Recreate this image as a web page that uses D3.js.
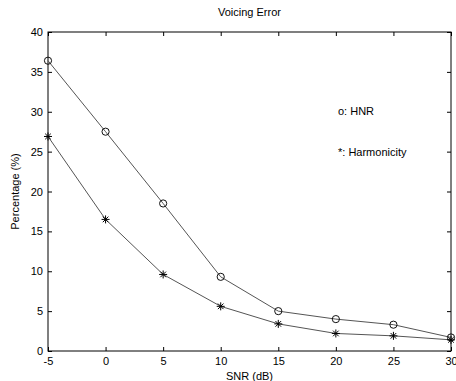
<!DOCTYPE html>
<html>
  <head>
    <meta charset="utf-8">
    <title>Voicing Error</title>
    <script src="https://d3js.org/d3.v7.min.js"></script>
    <style>
      body { margin: 0; background: #fff; }
      svg { display: block; font-family: "Liberation Sans", Arial, sans-serif; }
      .axis text { font-size: 11px; fill: #000; }
      .axis path, .axis line { stroke: #000; }
    </style>
  </head>
  <body>
    <div id="chart"></div>
    <script>
      // data
      var snr = [-5, 0, 5, 10, 15, 20, 25, 30];
      var hnr = [36.4, 27.5, 18.5, 9.3, 5.0, 4.0, 3.3, 1.7];
      var harmonicity = [26.9, 16.5, 9.6, 5.6, 3.4, 2.2, 1.9, 1.4];
      var xTicks = [-5, 0, 5, 10, 15, 20, 25, 30];
      var yTicks = [0, 5, 10, 15, 20, 25, 30, 35, 40];

      var width = 456, height = 381;
      var margin = { top: 32, right: 5, bottom: 30, left: 48 };
      var plain = function(d) { return String(d); }; // hyphen minus, like the original

      var svg = d3.select("#chart")
        .append("svg")
          .attr("width", width)
          .attr("height", height);

      var x = d3.scaleLinear()
        .domain([-5, 30])
        .range([margin.left, width - margin.right]);
      var y = d3.scaleLinear()
        .domain([0, 40])
        .range([height - margin.bottom, margin.top]);

      // axes, ticks pointing inwards on all four sides
      svg.append("g")
        .attr("class", "axis")
        .attr("transform", "translate(0," + y(0) + ")")
        .call(d3.axisBottom(x).tickValues(xTicks).tickFormat(plain).tickSizeInner(-4).tickSizeOuter(0).tickPadding(6))
        .call(function(g) { g.select(".domain").remove(); });
      svg.append("g")
        .attr("class", "axis")
        .attr("transform", "translate(" + x(-5) + ",0)")
        .call(d3.axisLeft(y).tickValues(yTicks).tickFormat(plain).tickSizeInner(-4).tickSizeOuter(0).tickPadding(5))
        .call(function(g) { g.select(".domain").remove(); });
      svg.append("g")
        .attr("class", "axis")
        .attr("transform", "translate(0," + y(40) + ")")
        .call(d3.axisTop(x).tickValues(xTicks).tickSizeInner(-4).tickSizeOuter(0).tickFormat(""))
        .call(function(g) { g.select(".domain").remove(); });
      svg.append("g")
        .attr("class", "axis")
        .attr("transform", "translate(" + x(30) + ",0)")
        .call(d3.axisRight(y).tickValues(yTicks).tickSizeInner(-4).tickSizeOuter(0).tickFormat(""))
        .call(function(g) { g.select(".domain").remove(); });

      // box
      svg.append("rect")
        .attr("x", x(-5))
        .attr("y", y(40))
        .attr("width", x(30) - x(-5))
        .attr("height", y(0) - y(40))
        .attr("fill", "none")
        .attr("stroke", "#000");

      // lines
      var line = d3.line()
        .x(function(d) { return x(d[0]); })
        .y(function(d) { return y(d[1]); });
      var hnrData = d3.zip(snr, hnr);
      var harmData = d3.zip(snr, harmonicity);

      [hnrData, harmData].forEach(function(data) {
        svg.append("path")
          .datum(data)
          .attr("d", line)
          .attr("fill", "none")
          .attr("stroke", "#555")
          .attr("stroke-width", 1);
      });

      // circle markers
      svg.selectAll(".hnr")
        .data(hnrData)
        .enter().append("circle")
          .attr("class", "hnr")
          .attr("cx", function(d) { return x(d[0]); })
          .attr("cy", function(d) { return y(d[1]); })
          .attr("r", 3.6)
          .attr("fill", "none")
          .attr("stroke", "#111");

      // asterisk markers
      var star = svg.selectAll(".harm")
        .data(harmData)
        .enter().append("g")
          .attr("class", "harm")
          .attr("transform", function(d) { return "translate(" + x(d[0]) + "," + y(d[1]) + ")"; });
      star.append("path")
        .attr("d", "M-4,0H4M0,-4V4M-2.8,-2.8L2.8,2.8M-2.8,2.8L2.8,-2.8")
        .attr("stroke", "#000")
        .attr("stroke-width", 1);

      // title and labels
      svg.append("text")
        .attr("x", (x(-5) + x(30)) / 2)
        .attr("y", 16)
        .attr("text-anchor", "middle")
        .style("font-size", "11px")
        .text("Voicing Error");
      svg.append("text")
        .attr("x", (x(-5) + x(30)) / 2)
        .attr("y", 380)
        .attr("text-anchor", "middle")
        .style("font-size", "11px")
        .text("SNR (dB)");
      svg.append("text")
        .attr("transform", "translate(19," + (y(20)) + ") rotate(-90)")
        .attr("text-anchor", "middle")
        .style("font-size", "11px")
        .text("Percentage (%)");

      // in-plot legend text
      svg.append("text")
        .attr("x", 338)
        .attr("y", 115)
        .style("font-size", "11px")
        .text("o: HNR");
      svg.append("text")
        .attr("x", 338)
        .attr("y", 156)
        .style("font-size", "11px")
        .text("*: Harmonicity");
    </script>
  </body>
</html>
